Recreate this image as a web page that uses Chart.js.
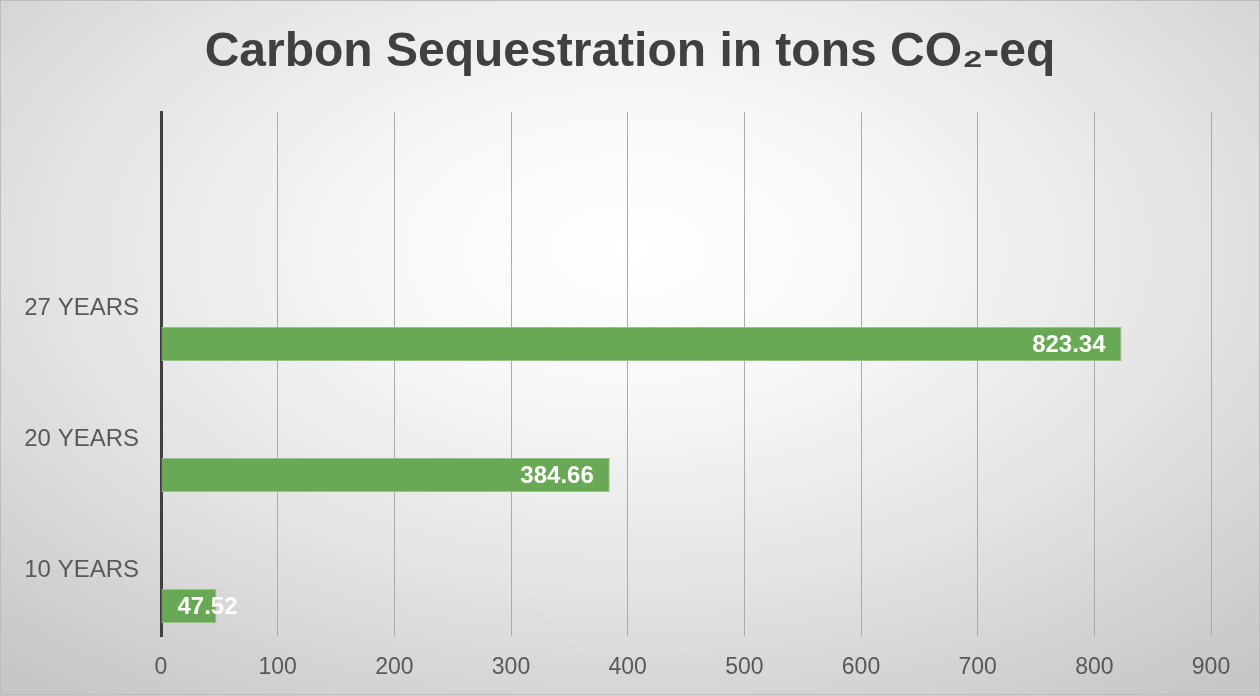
<!DOCTYPE html>
<html>
<head>
<meta charset="utf-8">
<title>Carbon Sequestration</title>
<script src="https://cdn.jsdelivr.net/npm/chart.js@4.4.1/dist/chart.umd.min.js"></script>
<style>
  html, body { margin: 0; padding: 0; }
  #wrap {
    width: 1260px;
    height: 696px;
    position: relative;
    background: radial-gradient(ellipse 75% 80% at 50% 36%, #ffffff 0%, #f8f8f8 25%, #e4e4e4 60%, #c6c6c6 100%);
  }
  canvas { display: block; }
</style>
</head>
<body>
<div id="wrap"><canvas id="chart" width="1260" height="696"></canvas></div>
<script>
// datos
const categories = ["27 YEARS", "20 YEARS", "10 YEARS"];
const values = [823.34, 384.66, 47.52];
const xTicks = [0, 100, 200, 300, 400, 500, 600, 700, 800, 900];

const titleText = "Carbon Sequestration in tons CO\u2082-eq";

// la fila vacia de arriba deja el hueco que tiene el original
const labels = [""].concat(categories);
const barValues = [null].concat(values);
const emptyValues = labels.map(() => null);

const fontFamily = "'Liberation Sans', Arial, sans-serif";

// etiquetas blancas al final de cada barra
const valueLabels = {
  id: "valueLabels",
  afterDatasetsDraw(chart) {
    const ctx = chart.ctx;
    const meta = chart.getDatasetMeta(1);
    ctx.save();
    ctx.font = "bold 24px " + fontFamily;
    ctx.fillStyle = "#ffffff";
    ctx.textBaseline = "middle";
    ctx.textAlign = "left";
    meta.data.forEach((bar, i) => {
      const v = barValues[i];
      if (v === null) return;
      const txt = v.toFixed(2);
      const w = ctx.measureText(txt).width;
      const left = Math.max(bar.x - 16 - w, bar.base + 16);
      ctx.fillText(txt, left, bar.y + 1);
    });
    ctx.restore();
  }
};

// marco fino alrededor
const frame = {
  id: "frame",
  afterDraw(chart) {
    const ctx = chart.ctx;
    ctx.save();
    ctx.strokeStyle = "#bdbdbd";
    ctx.lineWidth = 1;
    ctx.strokeRect(0.5, 0.5, chart.width - 1, chart.height - 2);
    ctx.restore();
  }
};

new Chart(document.getElementById("chart"), {
  type: "bar",
  data: {
    labels: labels,
    datasets: [
      {
        label: "vacio",
        data: emptyValues,
        backgroundColor: "rgba(0,0,0,0)"
      },
      {
        label: "CO2-eq",
        data: barValues,
        backgroundColor: "#69a855",
        borderColor: "#93c585",
        borderWidth: 1,
        borderSkipped: "start"
      }
    ]
  },
  options: {
    indexAxis: "y",
    responsive: false,
    animation: false,
    devicePixelRatio: 1,
    categoryPercentage: 1.084,
    barPercentage: 0.479,
    layout: { padding: 0 },
    plugins: {
      legend: { display: false },
      tooltip: { enabled: false },
      title: {
        display: true,
        text: titleText,
        color: "#404040",
        font: { family: fontFamily, size: 48, weight: "bold" },
        padding: { top: 24, bottom: 30.4 }
      }
    },
    scales: {
      x: {
        min: 0,
        max: 900,
        afterBuildTicks(scale) {
          scale.ticks = xTicks.map(v => ({ value: v }));
        },
        afterFit(scale) { scale.height = 60; },
        grid: { color: "#ababab", lineWidth: 1, drawTicks: false },
        border: { display: false },
        ticks: {
          color: "#595959",
          padding: 18,
          font: { family: fontFamily, size: 23 }
        }
      },
      y: {
        afterFit(scale) { scale.width = 161; },
        grid: { display: false, drawTicks: false },
        border: { display: true, color: "#404040", width: 3 },
        ticks: {
          color: "#595959",
          padding: 22,
          font: { family: fontFamily, size: 24 }
        }
      },
      // eje vacio a la derecha, solo para dejar el margen
      margen: {
        type: "linear",
        position: "right",
        afterFit(scale) { scale.width = 49; },
        grid: { display: false, drawTicks: false },
        border: { display: false },
        ticks: { display: false }
      }
    }
  },
  plugins: [valueLabels, frame]
});
</script>
</body>
</html>
